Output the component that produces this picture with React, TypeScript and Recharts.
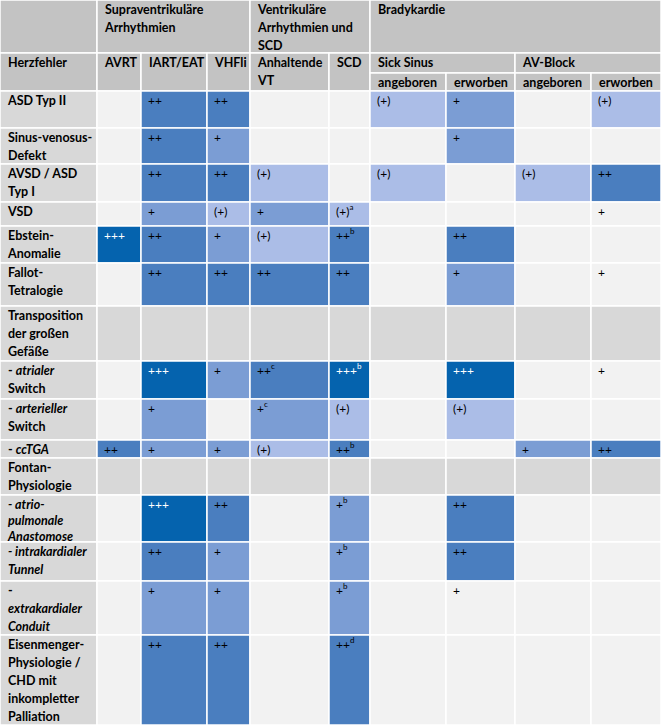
import React from "react";
import { ScatterChart, XAxis, YAxis, ReferenceArea, Scatter } from "recharts";

// ---- data ----
const groupHeaders = ["Supraventrikuläre\nArrhythmien", "Ventrikuläre\nArrhythmien und\nSCD", "Bradykardie"];
const columnHeaders = ["Herzfehler", "AVRT", "IART/EAT", "VHFli", "Anhaltende\nVT", "SCD"];
const bradyGroups = ["Sick Sinus", "AV-Block"];
const bradySub = ["angeboren", "erworben"];

const defects = [
  "ASD Typ II",
  "Sinus-venosus-\nDefekt",
  "AVSD / ASD\nTyp I",
  "VSD",
  "Ebstein-\nAnomalie",
  "Fallot-\nTetralogie",
  "Transposition\nder großen\nGefäße",
  "- *atrialer*\nSwitch",
  "- *arterieller*\nSwitch",
  "- *ccTGA*",
  "Fontan-\nPhysiologie",
  "*- atrio-*\n*pulmonale*\n*Anastomose*",
  "*- intrakardialer*\n*Tunnel*",
  "-\n*extrakardialer*\n*Conduit*",
  "Eisenmenger-\nPhysiologie /\nCHD mit\ninkompletter\nPalliation",
];
const groupRows = [6, 10];

// "value|footnote"
const avrt = ["", "", "", "", "+++", "", "", "", "", "++", "", "", "", "", ""];
const iartEat = ["++", "++", "++", "+", "++", "++", "", "+++", "+", "+", "", "+++", "++", "+", "++"];
const vhfli = ["++", "+", "++", "(+)", "+", "++", "", "+", "", "+", "", "++", "+", "+", "++"];
const anhaltendeVt = ["", "", "(+)", "+", "(+)", "++", "", "++|c", "+|c", "(+)", "", "", "", "", ""];
const scd = ["", "", "", "(+)|a", "++|b", "++", "", "+++|b", "(+)", "++|b", "", "+|b", "+|b", "+|b", "++|d"];
const sickSinusAng = ["(+)", "", "(+)", "", "", "", "", "", "", "", "", "", "", "", ""];
const sickSinusErw = ["+", "+", "", "", "++", "+", "", "+++", "(+)", "", "", "++", "++", "+", ""];
const avBlockAng = ["", "", "(+)", "", "", "", "", "", "", "+", "", "", "", "", ""];
const avBlockErw = ["(+)", "", "++", "+", "", "+", "", "+", "", "++", "", "", "", "", ""];
const valueColumns = [avrt, iartEat, vhfli, anhaltendeVt, scd, sickSinusAng, sickSinusErw, avBlockAng, avBlockErw];
// cells carrying a mark but left unshaded: [row, valueColumn]
const unshaded = [[13, 6], [3, 8], [5, 8], [7, 8]];

// ---- layout ----
const W = 661;
const H = 725;
const colW = [97, 44, 66, 43, 79, 41, 76, 69, 76, 70];
const rowH = [37, 36, 38, 24, 37, 43, 55, 38, 41, 18, 37, 47, 39, 54, 90];
const HEAD1 = 53;
const HEAD2 = 73;
const HEAD3 = 91;
const LH = 18;
const tightRows: Record<number, number> = { 11: 16 };
const FONT = "Lato, 'Noto Sans', sans-serif";

const colX: number[] = [0];
colW.forEach((w) => colX.push(colX[colX.length - 1] + w));
const rowY: number[] = [HEAD3];
rowH.forEach((h) => rowY.push(rowY[rowY.length - 1] + h));

const shades: Record<string, string> = {
  "(+)": "#abbde7",
  "+": "#7b9dd4",
  "++": "#4a7ebf",
  "+++": "#0563ae",
};
const HEAD_BG = "#c3c3c3";
const LABEL_BG = "#d8d8d8";
const EMPTY_BG = "#f2f2f2";

type Cell = {
  key: string;
  x1: number;
  x2: number;
  y1: number;
  y2: number;
  fill: string;
  text: string;
  sup?: string;
  bold?: boolean;
  color?: string;
  lh?: number;
};

const cells: Cell[] = [];

// header cells
cells.push({ key: "h-corner", x1: colX[0], x2: colX[1], y1: 0, y2: HEAD1, fill: HEAD_BG, text: "", bold: true });
cells.push({ key: "h-g0", x1: colX[1], x2: colX[4], y1: 0, y2: HEAD1, fill: HEAD_BG, text: groupHeaders[0], bold: true });
cells.push({ key: "h-g1", x1: colX[4], x2: colX[6], y1: 0, y2: HEAD1, fill: HEAD_BG, text: groupHeaders[1], bold: true });
cells.push({ key: "h-g2", x1: colX[6], x2: colX[10], y1: 0, y2: HEAD1, fill: HEAD_BG, text: groupHeaders[2], bold: true });
columnHeaders.forEach((t, i) => {
  cells.push({ key: `h-c${i}`, x1: colX[i], x2: colX[i + 1], y1: HEAD1, y2: HEAD3, fill: HEAD_BG, text: t, bold: true });
});
bradyGroups.forEach((t, g) => {
  cells.push({ key: `h-b${g}`, x1: colX[6 + g * 2], x2: colX[8 + g * 2], y1: HEAD1, y2: HEAD2, fill: HEAD_BG, text: t, bold: true });
  bradySub.forEach((s, k) => {
    const c = 6 + g * 2 + k;
    cells.push({ key: `h-s${g}${k}`, x1: colX[c], x2: colX[c + 1], y1: HEAD2, y2: HEAD3, fill: HEAD_BG, text: s, bold: true });
  });
});

// body
defects.forEach((label, r) => {
  const isGroup = groupRows.includes(r);
  cells.push({
    key: `l${r}`,
    x1: colX[0],
    x2: colX[1],
    y1: rowY[r],
    y2: rowY[r + 1],
    fill: LABEL_BG,
    text: label,
    bold: true,
    lh: tightRows[r],
  });
  valueColumns.forEach((col, c) => {
    const [v, sup] = col[r].split("|");
    const plain = unshaded.some(([ur, uc]) => ur === r && uc === c);
    const fill = isGroup ? LABEL_BG : v && !plain ? shades[v] : EMPTY_BG;
    cells.push({
      key: `v${r}-${c}`,
      x1: colX[c + 1],
      x2: colX[c + 2],
      y1: rowY[r],
      y2: rowY[r + 1],
      fill,
      text: v,
      sup,
      color: v === "+++" && !plain ? "#ffffff" : "#000000",
    });
  });
});

const renderSegments = (line: string) =>
  line.split("*").map((seg, i) =>
    i % 2 === 1 ? (
      <tspan key={i} fontStyle="italic">{seg}</tspan>
    ) : (
      <tspan key={i}>{seg}</tspan>
    )
  );

const CellShape = (cell: Cell) => (props: any) => {
  const { x, y, width, height } = props;
  const bold = !!cell.bold;
  const tx = x + (bold ? 8 : 7);
  const lh = cell.lh || LH;
  const lines = cell.text ? cell.text.split("\n") : [];
  return (
    <g>
      <rect x={x} y={y} width={width} height={height} fill={cell.fill} stroke="#ffffff" strokeWidth={1.5} />
      {lines.length > 0 && (
        <text
          x={tx}
          y={y + 14}
          fontFamily={FONT}
          fontSize={bold ? 12.5 : 12}
          fontWeight={bold ? 700 : 400}
          fill={cell.color || "#000000"}
        >
          {lines.map((ln, i) => (
            <tspan key={i} x={tx} y={y + 14 + i * lh}>
              {renderSegments(ln)}
              {cell.sup && i === lines.length - 1 ? (
                <tspan fontSize={8} dy={-6}>{cell.sup}</tspan>
              ) : null}
            </tspan>
          ))}
        </text>
      )}
    </g>
  );
};

export default function App() {
  return (
    <div style={{ position: "absolute", left: 0, top: 0, width: W, height: H }}>
      <ScatterChart width={W} height={H} margin={{ top: 0, right: 0, bottom: 0, left: 0 }}>
        <XAxis type="number" dataKey="x" domain={[0, W]} hide allowDataOverflow />
        <YAxis type="number" dataKey="y" domain={[0, H]} reversed hide allowDataOverflow />
        <Scatter data={[]} isAnimationActive={false} />
        {cells.map((c) => (
          <ReferenceArea
            key={c.key}
            x1={c.x1}
            x2={c.x2}
            y1={c.y1}
            y2={c.y2}
            fill={c.fill}
            fillOpacity={1}
            ifOverflow="visible"
            shape={CellShape(c)}
          />
        ))}
      </ScatterChart>
    </div>
  );
}
